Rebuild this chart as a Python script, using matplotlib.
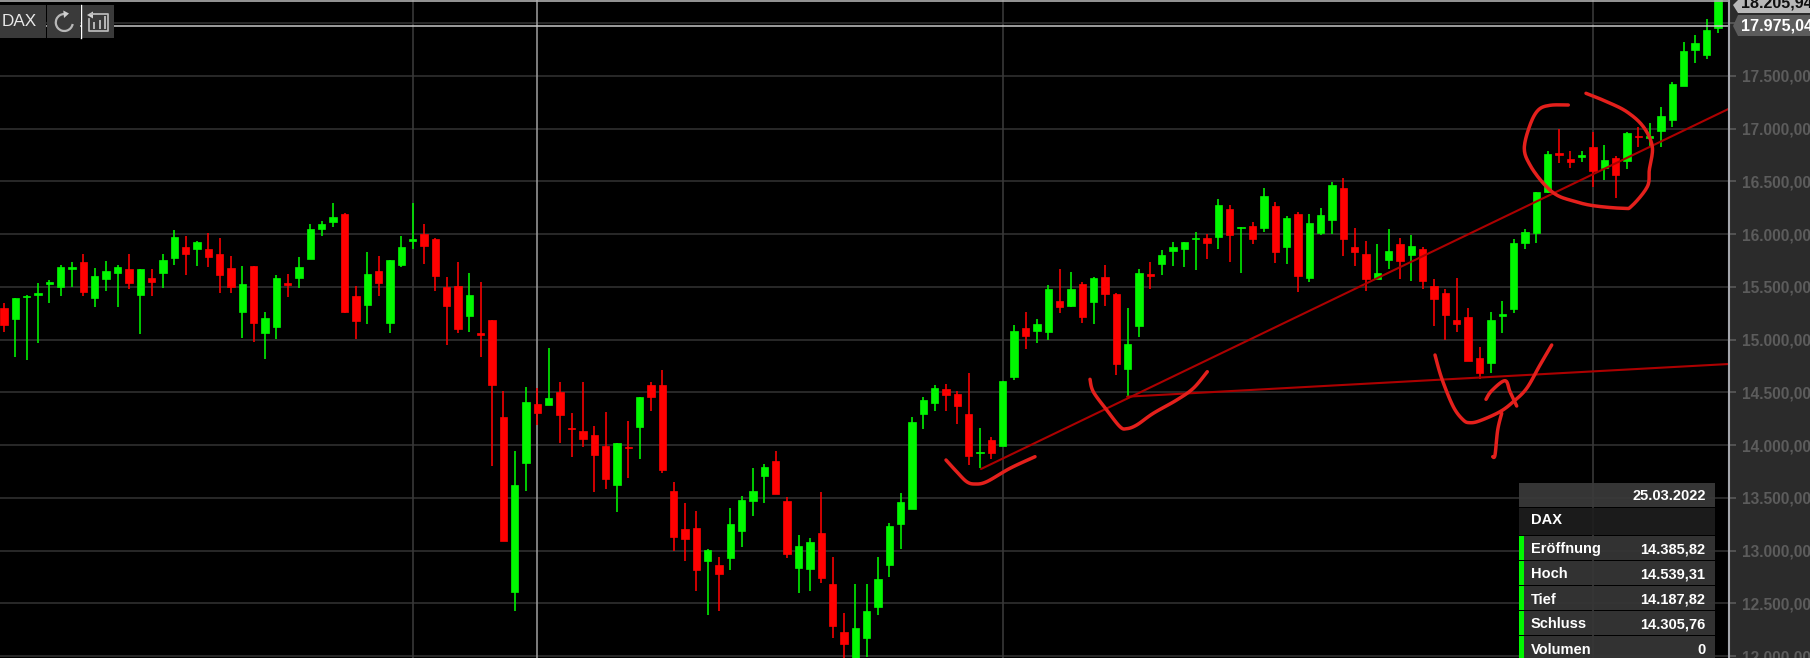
"""DAX daily candles screenshot with hand-drawn trend markup."""
import matplotlib

matplotlib.use("Agg")
import matplotlib.pyplot as plt
import numpy as np
from matplotlib.patches import Arc, Polygon, Rectangle

plt.rcParams["font.family"] = ["Liberation Sans", "DejaVu Sans"]

GREEN, RED = "#00f800", "#ff0000"
PANEL = "#2b2b2b"
GRID = "#303030"

# candles left to right
OPENS = [15297, 15193, 15408, 15427, 15525, 15502, 15667, 15739, 15398, 15572, 15629, 15673, 15423, 15581, 15635, 15777,
         15875, 15856, 15856, 15815, 15679, 15262, 15698, 15066, 15120, 15540, 15585, 15768, 16046, 16112, 16188, 15414,
         15329, 15654, 15155, 15708, 15938, 16005, 15951, 15496, 15509, 15220, 15066, 15186, 14264, 12611, 13828, 14385.82,
         14377, 14501, 14163, 14137, 14093, 13995, 13622, 13986, 14175, 14570, 14573, 13562, 13205, 13211, 12902, 12861,
         12933, 13183, 13467, 13704, 13847, 13467, 12839, 12826, 13167, 12681, 12225, 11950, 12175, 12469, 12867, 13256,
         13395, 14295, 14396, 14530, 14489, 14299, 13926, 14046, 13996, 14650, 15111, 15080, 15073, 15367, 15323, 15528,
         15355, 15598, 15434, 14720, 15133, 15623, 15715, 15841, 15857, 15952, 15968, 15971, 16236, 16056, 16081, 16056,
         16271, 15879, 16189, 15589, 16012, 16132, 16435, 15879, 15816, 15578, 15758, 15904, 15799, 15856, 15512, 15439,
         15183, 15215, 14824, 14776, 15224, 15288, 15916, 16008, 16400, 16766, 16710, 16735, 16830, 16624, 16719, 16691,
         16931, 16915, 16978, 17079, 17402, 17749, 17695, 17951]
HIGHS = [15351, 15398, 15423, 15534, 15566, 15705, 15739, 15809, 15683, 15749, 15708, 15809, 15673, 15667, 15809, 16040,
         15983, 15935, 16008, 15967, 15793, 15698, 15701, 15265, 15610, 15622, 15780, 16096, 16125, 16292, 16204, 15509,
         15834, 15793, 15755, 15983, 16292, 16093, 15967, 15591, 15733, 15629, 15550, 15186, 14516, 13945, 14554, 14539.31,
         14924, 14599, 14302, 14599, 14185, 14314, 14024, 14232, 14460, 14602, 14712, 13647, 13448, 13379, 13012, 12936,
         13404, 13521, 13787, 13821, 13948, 13505, 13148, 13123, 13559, 12936, 12412, 12681, 12681, 12936, 13265, 13550,
         14270, 14460, 14570, 14580, 14514, 14682, 14160, 14075, 14612, 15140, 15266, 15197, 15519, 15668, 15639, 15551,
         15598, 15709, 15440, 15298, 15671, 15737, 15851, 15923, 15923, 16025, 16002, 16337, 16277, 16072, 16119, 16435,
         16303, 16176, 16214, 16192, 16252, 16495, 16530, 16063, 15936, 15904, 16046, 15961, 15992, 15875, 15578, 15477,
         15581, 15297, 14934, 15265, 15367, 15951, 16046, 16400, 16792, 16997, 16789, 16789, 16972, 16845, 16744, 16965,
         17019, 17057, 17202, 17446, 17825, 17888, 18040, 18230]
LOWS = [15076, 14839, 14807, 14965, 15344, 15417, 15502, 15417, 15306, 15464, 15306, 15477, 15051, 15417, 15487, 15705,
        15616, 15701, 15686, 15446, 15446, 15019, 14978, 14820, 15003, 15408, 15487, 15768, 15983, 16071, 15250, 15006,
        15148, 15417, 15066, 15686, 15863, 15714, 15461, 14949, 15060, 15076, 14839, 13802, 13094, 12431, 13568, 14187.82,
        14377, 14024, 13884, 13982, 13556, 13581, 13369, 13685, 13869, 14324, 13733, 13000, 12902, 12617, 12390, 12431,
        12816, 13038, 13328, 13455, 13540, 12927, 12602, 12617, 12690, 12175, 11950, 11900, 11995, 12390, 12747, 13012,
        13390, 14150, 14324, 14328, 14198, 13816, 13781, 13869, 13996, 14618, 14909, 14966, 14998, 15250, 15307, 15162,
        15149, 15320, 14666, 14467, 15023, 15478, 15617, 15702, 15686, 15661, 15762, 15857, 15734, 15630, 15905, 16018,
        15731, 15718, 15449, 15547, 15990, 16002, 15794, 15702, 15465, 15572, 15673, 15575, 15559, 15477, 15133, 14997,
        15076, 14795, 14625, 14681, 15066, 15250, 15863, 15920, 16394, 16672, 16631, 16687, 16444, 16514, 16340, 16615,
        16830, 16830, 16830, 17019, 17402, 17620, 17664, 17910]
CLOSES = [15139, 15398, 15417, 15439, 15547, 15692, 15692, 15452, 15604, 15648, 15686, 15540, 15667, 15547, 15758, 15976,
          15812, 15929, 15784, 15613, 15496, 15528, 15158, 15202, 15585, 15521, 15686, 16052, 16093, 16160, 15262, 15174,
          15622, 15534, 15752, 15882, 15951, 15888, 15607, 15322, 15104, 15424, 15047, 14567, 13094, 13622, 14412, 14305.76,
          14444, 14286, 14150, 14058, 13907, 13676, 14024, 13970, 14460, 14460, 13761, 13126, 13113, 12813, 13009, 12782,
          13249, 13480, 13568, 13793, 13540, 12968, 13044, 13085, 12741, 12286, 12115, 12267, 12431, 12728, 13237, 13458,
          14219, 14428, 14539, 14473, 14372, 13898, 13939, 13923, 14612, 15086, 15036, 15149, 15478, 15310, 15484, 15212,
          15582, 15431, 14770, 14957, 15630, 15604, 15807, 15882, 15923, 15965, 15917, 16277, 15990, 16069, 15952, 16360,
          15835, 16151, 15607, 16107, 16179, 16470, 15955, 15835, 15576, 15629, 15837, 15743, 15891, 15559, 15389, 15231,
          15145, 14801, 14688, 15186, 15240, 15920, 16024, 16397, 16760, 16747, 16684, 16751, 16599, 16703, 16558, 16962,
          16918, 16931, 17117, 17421, 17737, 17816, 17936, 18230]

TICK_VALUES = [12000, 12500, 13000, 13500, 14000, 14500, 15000, 15500, 16000, 16500, 17000, 17500, 18000]
TICK_LABELS = ["12.000,00", "12.500,00", "13.000,00", "13.500,00", "14.000,00", "14.500,00", "15.000,00",
               "15.500,00", "16.000,00", "16.500,00", "17.000,00", "17.500,00", ""]
LAST_PRICE = 17975.04
HIGH_PRICE = 18205.94
VLINE_IDX = [36, 47, 88, 140]  # candle index of the vertical grid lines (47 is the lighter one)

TIP_DATE = "25.03.2022"
TIP_NAME = "DAX"
TIP_ROWS = [("Eröffnung", "14.385,82"), ("Hoch", "14.539,31"), ("Tief", "14.187,82"),
            ("Schluss", "14.305,76"), ("Volumen", "0")]

# markup, in screen pixels
TREND_LINES = [[(981, 469), (1729, 108.7)], [(1127, 396.7), (1729, 364)]]
STROKES = [
    [(946, 460), (956.7, 471.7), (966.7, 481.7), (975, 484), (986.7, 481.7), (1010, 468.3), (1035, 456.7)],
    [(1090, 379.3), (1093.3, 391.7), (1106.7, 410), (1120, 426.7), (1126.7, 428.7), (1136.7, 425), (1153.3, 413.3),
     (1176.7, 400), (1193.3, 388.3), (1207.3, 371.7)],
    [(1435, 355), (1441.7, 378.3), (1453.3, 406.7), (1463.3, 420), (1470, 422.7), (1480, 420.7), (1500, 411.7),
     (1513.3, 401.7), (1526.7, 388.3), (1540, 365), (1551.7, 345)],
    [(1486, 399.3), (1491.7, 390.7), (1505, 380.7), (1510, 391.7), (1516.7, 406)],
    [(1501.7, 413.3), (1497.7, 430), (1495, 455), (1492.7, 456.7)],
    [(1568.3, 105), (1550, 105.3), (1538.3, 110), (1530, 125), (1524.3, 148.3), (1530, 165), (1543.3, 183.3),
     (1556.7, 195), (1573.3, 201), (1593.3, 205.7), (1623.3, 208.3), (1631.7, 206), (1647.3, 186.7), (1649.3, 170),
     (1652.3, 146.7), (1643.3, 126.7), (1626.7, 111.7), (1606.7, 101.7), (1586, 93.3)],
]

W, H = 1810, 658
PLOT_W = 1729
STEP = 11.35  # px per candle


def smooth(points, n=12):
    """Catmull-Rom through the points so pen strokes don't look polygonal."""
    p = np.array([points[0]] + list(points) + [points[-1]], dtype=float)
    out = []
    for i in range(1, len(p) - 2):
        for t in np.linspace(0, 1, n, endpoint=False):
            out.append(0.5 * (2 * p[i] + (p[i + 1] - p[i - 1]) * t
                              + (2 * p[i - 1] - 5 * p[i] + 4 * p[i + 1] - p[i + 2]) * t ** 2
                              + (3 * p[i] - p[i - 1] - 3 * p[i + 1] + p[i + 2]) * t ** 3))
    out.append(p[-2])
    return np.array(out)


fig = plt.figure(figsize=(W / 100, H / 100), dpi=100, facecolor=PANEL)
ax = fig.add_axes([0, 0, PLOT_W / W, 1], facecolor="black")
ax.set_xlim(-4 / STEP, (PLOT_W - 4) / STEP)
ax.set_ylim(18220 - H * 9.48, 18220)
for s in ax.spines.values():
    s.set_visible(False)
ax.set_xticks([])
ax.yaxis.tick_right()
ax.set_yticks(TICK_VALUES, TICK_LABELS)
ax.tick_params(axis="y", length=5, width=1.2, color="#5a5a5a", labelcolor="#5c5c5c", labelsize=11.2, pad=4)
for lab in ax.get_yticklabels():
    lab.set_fontweight("bold")
ax.set_axisbelow(True)
ax.grid(axis="y", color=GRID, lw=1.2)

for idx in VLINE_IDX:
    ax.axvline(idx, color="#a0a0a0" if idx == 47 else "#383838", lw=1.1 if idx == 47 else 1.2, zorder=1)

x = np.arange(len(OPENS))
o, h, l, c = map(np.array, (OPENS, HIGHS, LOWS, CLOSES))
colors = np.where(c >= o, GREEN, RED)
ax.vlines(x, l, h, colors=colors, lw=1.15, zorder=2)
ax.bar(x, np.abs(c - o), bottom=np.minimum(o, c), width=0.65, color=colors, edgecolor=colors, lw=0.5, zorder=3)

ax.axhline(HIGH_PRICE, color="#b0b0b0", lw=1.2, zorder=4)
ax.axhline(LAST_PRICE, color="#c8c8c8", lw=1.1, zorder=4)

# screen-pixel overlay for chrome and pen markup
ov = fig.add_axes([0, 0, 1, 1], facecolor="none")
ov.set_xlim(0, W)
ov.set_ylim(H, 0)
ov.axis("off")

for line in TREND_LINES:
    ov.plot(*zip(*line), color="#ac0000", lw=1.5, solid_capstyle="round")
for stroke in STROKES:
    pts = smooth(stroke)
    ov.plot(pts[:, 0], pts[:, 1], color="#e4201c", lw=2.5, solid_capstyle="round", solid_joinstyle="round")

ov.plot([PLOT_W, PLOT_W], [0, H], color="#a4a6ac", lw=1.5)

# price flags on the right
ov.add_patch(Polygon([(1733, 5), (1738, 0), (W, 0), (W, 13), (1738, 13)], fc="#b8b8b8", ec="none"))
ov.text(1741, 3.5, "18.205,94", color="#101010", fontsize=11.6, fontweight="bold", va="center")
ov.add_patch(Polygon([(1733, 26), (1738, 15), (W, 15), (W, 36), (1738, 36)], fc="#5c5c5c", ec="none"))
ov.text(1741, 26, "17.975,04", color="white", fontsize=11.6, fontweight="bold", va="center")

# toolbar
for x0, x1 in [(0, 46), (47, 80), (81.5, 114)]:
    ov.add_patch(Rectangle((x0, 5), x1 - x0, 33, fc="#3a3a3a", ec="none"))
ov.plot([80.7, 80.7], [5, 38], color="white", lw=1)
ov.text(2, 22, "DAX", color="#e8e8e8", fontsize=12.3, va="center")
ov.add_patch(Arc((64.3, 22.5), 17, 17, theta1=10, theta2=270, color="#b8b8b8", lw=1.6))
ov.add_patch(Polygon([(63.3, 10.5), (69, 13.5), (64, 18)], fc="#d0d0d0", ec="none"))
ov.plot([91, 108, 108, 88.5, 88.5], [14, 14, 30.5, 30.5, 19], color="#b8b8b8", lw=1.3)
ov.add_patch(Polygon([(87, 15), (93, 11.5), (93, 18.5)], fc="#d0d0d0", ec="none"))
for bx, by in [(94.3, 23.3), (100, 20.7), (105, 17.3)]:
    ov.plot([bx, bx], [by, 27.5], color="#b8b8b8", lw=1.4)

# tooltip box
TX0, TX1 = 1519, 1715
TL, TR = 1530.5, 1705.5
TIP_FS = 10.5
ov.add_patch(Rectangle((TX0, 483), TX1 - TX0, 23.5, fc="#3a3a3a", ec="none", alpha=0.93))
ov.text(TR, 495.5, TIP_DATE, color="white", fontsize=TIP_FS, fontweight="bold", ha="right", va="center")
ov.add_patch(Rectangle((TX0, 507.7), TX1 - TX0, 27.3, fc="#1e1e1e", ec="none", alpha=0.93))
ov.text(TL, 520.5, TIP_NAME, color="white", fontsize=TIP_FS, fontweight="bold", va="center")
for i, (name, val) in enumerate(TIP_ROWS):
    top = 536 + 25 * i
    ov.add_patch(Rectangle((TX0, top), TX1 - TX0, 24, fc="#363636", ec="none", alpha=0.93))
    ov.add_patch(Rectangle((TX0, top), 5, 24, fc=GREEN, ec="none"))
    ov.text(TL, top + 13.5, name, color="white", fontsize=TIP_FS, fontweight="bold", va="center")
    ov.text(TR, top + 13.5, val, color="white", fontsize=TIP_FS, fontweight="bold", ha="right", va="center")

fig.savefig("out.png", dpi=100, facecolor=fig.get_facecolor())
